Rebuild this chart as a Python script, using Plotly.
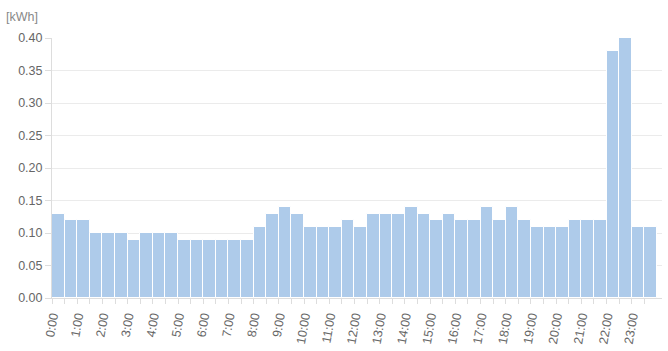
import plotly.graph_objects as go

slot_labels = [f"{h}:{m:02d}" for h in range(24) for m in (0, 30)]
hour_labels = [f"{h}:00" for h in range(24)]
values = [
    0.13, 0.12, 0.12, 0.10, 0.10, 0.10, 0.09, 0.10,
    0.10, 0.10, 0.09, 0.09, 0.09, 0.09, 0.09, 0.09,
    0.11, 0.13, 0.14, 0.13, 0.11, 0.11, 0.11, 0.12,
    0.11, 0.13, 0.13, 0.13, 0.14, 0.13, 0.12, 0.13,
    0.12, 0.12, 0.14, 0.12, 0.14, 0.12, 0.11, 0.11,
    0.11, 0.12, 0.12, 0.12, 0.38, 0.40, 0.11, 0.11,
]

x_pos = [i * 0.5 + 0.25 for i in range(len(values))]
tickvals = [i * 0.5 for i in range(len(values))]
ticktext = [lab if lab.endswith(":00") else "" for lab in slot_labels]

fig = go.Figure(go.Bar(
    x=x_pos, y=values, width=0.5,
    marker=dict(color="#AECBEA", line=dict(color="white", width=1)),
    hovertext=slot_labels,
))

fig.update_layout(
    width=668, height=351,
    margin=dict(l=52, r=6, t=38, b=53),
    plot_bgcolor="white", paper_bgcolor="white",
    font=dict(family="Liberation Sans, Arial, sans-serif", size=12.5, color="#666"),
    showlegend=False,
    bargap=0,
    annotations=[dict(text="[kWh]", xref="paper", yref="paper", x=-0.078, y=1.0,
                      xanchor="left", yanchor="bottom", yshift=12, showarrow=False,
                      font=dict(size=12.5, color="#888"))],
)
fig.update_xaxes(
    range=[0, 24.2], tickmode="array", tickvals=tickvals, ticktext=ticktext,
    tickangle=-80, ticks="outside", ticklen=5, tickcolor="#ddd",
    showgrid=False, showline=True, linecolor="#ddd", linewidth=1,
    zeroline=False, tickfont=dict(size=12.5, color="#666"),
)
fig.update_yaxes(
    range=[0, 0.4], dtick=0.05, tickformat=".2f",
    ticks="outside", ticklen=6, tickcolor="#ddd",
    showgrid=True, gridcolor="#ebebeb", gridwidth=1,
    showline=True, linecolor="#ddd", linewidth=1, zeroline=False,
    tickfont=dict(size=12.5, color="#666"),
)

fig.write_html("out.html")
